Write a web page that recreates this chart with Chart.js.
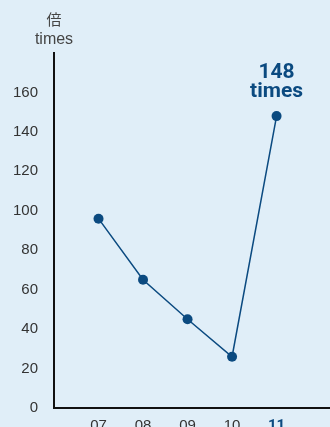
<!DOCTYPE html>
<html>
<head>
<meta charset="utf-8">
<script src="https://cdn.jsdelivr.net/npm/chart.js@4/dist/chart.umd.min.js"></script>
<style>
  html, body { margin: 0; padding: 0; background: #e0eef8; overflow: hidden; width: 330px; height: 427px; }
  canvas { display: block; }
</style>
</head>
<body>
<canvas id="c" width="330" height="440"></canvas>
<script>
// Fiscal years and the multiple ("times") recorded for each
const years = ['07', '08', '09', '10', '11'];
const multiples = [96, 65, 45, 26, 148];
const yTicks = [0, 20, 40, 60, 80, 100, 120, 140, 160];
const unitLines = ['倍', 'times'];
const highlightLabel = ['148', 'times'];

const navy = '#0b4a80';
const lastIdx = years.length - 1;

const points = multiples.map((v, i) => ({ x: i + 1, y: v }));

const overlay = {
  id: 'overlay',
  afterDraw(chart) {
    const { ctx, scales } = chart;
    const yAxisX = scales.y.right;
    ctx.save();
    ctx.textAlign = 'center';
    ctx.textBaseline = 'alphabetic';
    ctx.fillStyle = '#444';
    ctx.font = '15px "Noto Sans CJK JP"';
    ctx.fillText(unitLines[0], yAxisX, 25);
    ctx.font = '16px "Liberation Sans"';
    ctx.fillText(unitLines[1], yAxisX, 44);

    const px = scales.x.getPixelForValue(lastIdx + 1);
    const py = scales.y.getPixelForValue(multiples[lastIdx]);
    ctx.fillStyle = navy;
    ctx.font = 'bold 21px Roboto';
    ctx.fillText(highlightLabel[0], px, py - 38);
    ctx.fillText(highlightLabel[1], px, py - 19);
    ctx.restore();
  }
};

new Chart(document.getElementById('c'), {
  type: 'line',
  data: {
    datasets: [{
      data: points,
      borderColor: navy,
      backgroundColor: navy,
      borderWidth: 1.5,
      pointRadius: 5,
      pointBackgroundColor: navy,
      pointBorderWidth: 0,
      tension: 0
    }]
  },
  options: {
    responsive: false,
    animation: false,
    layout: { autoPadding: false, padding: { top: 53, left: 0, right: 0, bottom: 0 } },
    plugins: { legend: { display: false }, tooltip: { enabled: false } },
    scales: {
      x: {
        type: 'linear',
        min: 0,
        max: 6.2,
        afterFit: s => { s.height = 32; },
        afterBuildTicks: s => { s.ticks = years.map((_, i) => ({ value: i + 1 })); },
        grid: { display: false },
        border: { display: true, color: '#111', width: 2 },
        ticks: {
          padding: 1,
          autoSkip: false,
          maxRotation: 0,
          callback: v => years[v - 1] ?? '',
          color: c => (c.index === lastIdx ? navy : '#333'),
          font: c => (c.index === lastIdx
            ? { family: 'Roboto', size: 15, weight: 'bold' }
            : { family: 'Liberation Sans', size: 15 })
        }
      },
      y: {
        min: 0,
        max: 180,
        afterFit: s => { s.width = 54; },
        afterBuildTicks: s => { s.ticks = yTicks.map(v => ({ value: v })); },
        grid: { display: false },
        border: { display: true, color: '#111', width: 2 },
        ticks: {
          padding: 8,
          color: '#333',
          font: { family: 'Liberation Sans', size: 15 }
        }
      }
    }
  },
  plugins: [overlay]
});
</script>
</body>
</html>
